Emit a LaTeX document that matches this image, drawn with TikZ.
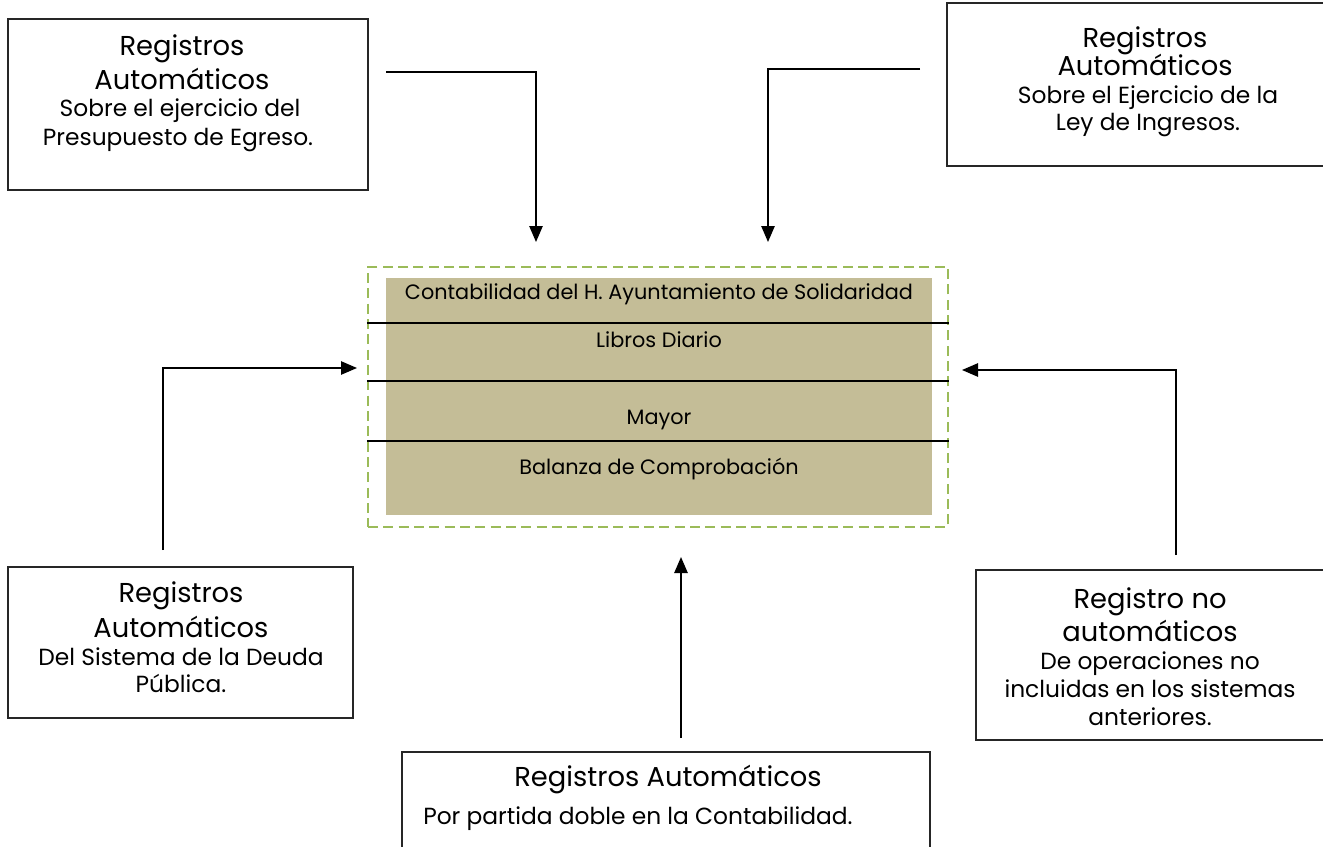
\documentclass[tikz,border=0pt]{standalone}
\usepackage{fontspec}
\setmainfont{Poppins}
\usetikzlibrary{arrows.meta}
\definecolor{tanfill}{HTML}{C4BD97}
\definecolor{dgreen}{HTML}{9BBB59}
\begin{document}
\begin{tikzpicture}[x=0.75pt,y=-0.75pt,
 box/.style={draw=black!85, line width=0.9pt, rectangle, inner sep=0pt},
 ttl/.style={anchor=base, inner sep=0pt, font=\fontsize{20.5}{24}\selectfont},
 bdy/.style={anchor=base, inner sep=0pt, font=\fontsize{17.5}{20}\selectfont},
 ctr/.style={anchor=base, inner sep=0pt, font=\fontsize{15.6}{18}\selectfont},
 arr/.style={line width=1.2pt, -{Triangle[length=12pt,width=10pt]}},
 sepline/.style={line width=1.2pt}]
\useasboundingbox (0,0) rectangle (1323,846);
\clip (0,0) rectangle (1323,846);

% outer boxes
\node[box, minimum width=270pt, minimum height=128.25pt] (tl) at (188,104.5) {};
\node[box, minimum width=285pt, minimum height=122.25pt] (tr) at (1137,84.5) {};
\node[box, minimum width=258.75pt, minimum height=113.25pt] (bl) at (180.5,642.5) {};
\node[box, minimum width=265.5pt, minimum height=127.5pt] (br) at (1153,655) {};
\node[box, minimum width=396pt, minimum height=81pt] (bt) at (666,806) {};

% central block
\node[fill=tanfill, inner sep=0pt, minimum width=409.5pt, minimum height=177.75pt] (fillbox) at (659,396.5) {};
\node[draw=dgreen, line width=1.8pt, dash pattern=on 7.5pt off 4pt, inner sep=0pt, minimum width=435pt, minimum height=195pt] (main) at (658,397) {};
\draw[sepline] (main.west |- 0,323) -- (main.east |- 0,323);
\draw[sepline] (main.west |- 0,381) -- (main.east |- 0,381);
\draw[sepline] (main.west |- 0,441) -- (main.east |- 0,441);
\node[ctr] (c1) at (659,299) {Contabilidad del H. Ayuntamiento de Solidaridad};
\node[ctr] (c2) at (659,347) {Libros Diario};
\node[ctr] (c3) at (659,424) {Mayor};
\node[ctr] (c4) at (659,474) {Balanza de Comprobación};

% texts
\node[ttl] (tl1) at (182,55) {Registros};
\node[ttl] (tl2) at (182,89) {Automáticos};
\node[bdy] (tl3) at (180,116) {Sobre el ejercicio del};
\node[bdy] (tl4) at (178,145) {Presupuesto de Egreso.};

\node[ttl] (tr1) at (1145,47) {Registros};
\node[ttl] (tr2) at (1145,75) {Automáticos};
\node[bdy] (tr3) at (1148,103) {Sobre el Ejercicio de la};
\node[bdy] (tr4) at (1148,130) {Ley de Ingresos.};

\node[ttl] (bl1) at (181,602) {Registros};
\node[ttl] (bl2) at (181,637) {Automáticos};
\node[bdy] (bl3) at (181,665) {Del Sistema de la Deuda};
\node[bdy] (bl4) at (181,692) {Pública.};

\node[ttl] (br1) at (1150,608) {Registro no};
\node[ttl] (br2) at (1150,641) {automáticos};
\node[bdy] (br3) at (1150,669) {De operaciones no};
\node[bdy] (br4) at (1150,697) {incluidas en los sistemas};
\node[bdy] (br5) at (1150,725) {anteriores.};

\node[ttl] (bt1) at (668,786) {Registros Automáticos};
\node[bdy, anchor=base west] (bt2) at (423,824) {Por partida doble en la Contabilidad.};

% connectors
\coordinate (tls) at (386,72);
\coordinate (tle) at (536,242);
\coordinate (trs) at (920,69);
\coordinate (tre) at (768,242);
\coordinate (bls) at (163,550);
\coordinate (ble) at (357,368);
\coordinate (brs) at (1176,555);
\coordinate (bre) at (962,370);
\coordinate (bts) at (681,738);
\coordinate (bte) at (681,557);
\draw[arr] (tls) -| (tle);
\draw[arr] (trs) -| (tre);
\draw[arr] (bls) |- (ble);
\draw[arr] (brs) |- (bre);
\draw[arr] (bts) -- (bte);
\end{tikzpicture}
\end{document}
